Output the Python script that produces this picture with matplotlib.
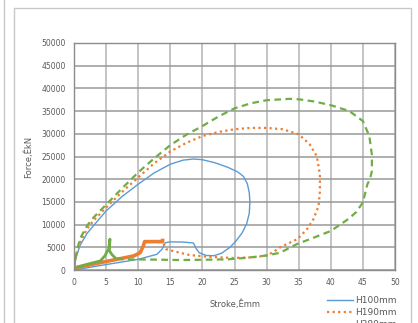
import matplotlib.pyplot as plt
from matplotlib.lines import Line2D

# H100mm (solid blue) - stroke in mm, force in kN
h100_x = [0, 0.3, 0.9, 2, 3, 5, 7.5, 10, 12.5, 15, 17, 18.6, 20, 22, 24, 25.5, 26.4,
          27.0, 27.3, 27.4, 27.3, 26.9, 26.2, 25.3, 24.3, 23, 21.8, 20.6, 19.5, 19.0,
          18.6, 17, 15, 14.2, 13.7, 12.9, 10, 5, 0]
h100_y = [0, 2600, 5300, 8000, 9700, 13000, 16200, 18900, 21400, 23300, 24200, 24450,
          24300, 23600, 22600, 21600, 20600, 19000, 17000, 15000, 12500, 10200, 8200,
          6500, 5000, 3700, 3150, 3200, 3800, 4800, 5950, 6150, 6200, 6000, 4560, 3450,
          2350, 1200, 0]

# H190mm (dotted orange) + dense part drawn solid
h190_x = [0, 0.3, 0.9, 2, 3, 5, 7.5, 10, 12.5, 15, 17.5, 20, 22.5, 25, 27.5, 30, 32.5,
          35, 36.7, 37.8, 38.1, 38.3, 38.3, 38.1, 37.3, 36.3, 34.8, 32.1, 31, 30, 28,
          24.8, 21, 18, 16.5, 14.4, 13.8]
h190_y = [0, 3000, 6000, 9000, 10800, 13750, 17200, 20400, 23500, 26100, 28000, 29500,
          30400, 31000, 31300, 31300, 31000, 29900, 27700, 25100, 22800, 21000, 17300,
          14100, 11200, 9000, 6800, 5000, 3900, 3200, 2800, 2650, 2900, 3300, 3800, 4560,
          6200]
h190_solid_x = [0, 0.3, 4.6, 9.3, 10.3, 10.8, 11, 13.7, 13.8, 13.8]
h190_solid_y = [0, 500, 1760, 3100, 3800, 5300, 6250, 6250, 6250, 6900]

# H280mm (dashed green) + dense part drawn solid
h280_x = [0, 0.3, 0.9, 2, 3, 5, 7.5, 10, 12.5, 15, 17.5, 20, 22.5, 25, 27.5, 30, 33.6,
          35, 37.5, 40, 42.9, 45, 46, 46.4, 46.4, 46.1, 45.7, 45, 44, 42.7, 40, 37.3,
          34.7, 32.1, 30, 27, 24, 20, 16.5, 12, 7.5, 6.4]
h280_y = [0, 3200, 6800, 9700, 11500, 14400, 18000, 21500, 24600, 27500, 29800, 31700,
          33800, 35600, 36700, 37400, 37700, 37600, 37100, 36300, 35000, 32800, 29500,
          25400, 21800, 20000, 18900, 14900, 12800, 11200, 8600, 7100, 5700, 3800, 3200,
          2700, 2350, 2250, 2200, 2300, 2350, 2700]
h280_solid_x = [0, 0.1, 2, 4.1, 4.8, 5.2, 5.4, 5.6, 5.5, 5.9, 6.4]
h280_solid_y = [0, 500, 1250, 2000, 3100, 4200, 4600, 6800, 4300, 3400, 2700]

blue = '#5B9BD5'
orange = '#ED7D31'
green = '#70AD47'
txt = '#595959'

fig = plt.figure(figsize=(4.18, 3.23), dpi=100)
ax = fig.add_axes([74 / 418, 1 - 270 / 323, 321 / 418, 227 / 323])

ax.plot(h100_x, h100_y, color=blue, lw=1.0, label='H100mm')
ax.plot(h190_x, h190_y, color=orange, lw=1.6, ls=(0, (1, 1.5)), label='H190mm')
ax.plot(h190_solid_x, h190_solid_y, color=orange, lw=2.6, solid_capstyle='butt')
ax.plot(h280_x, h280_y, color=green, lw=1.6, ls=(0, (3, 2)), label='H280mm')
ax.plot(h280_solid_x, h280_solid_y, color=green, lw=2.0)

ax.set_xlim(0, 50)
ax.set_ylim(0, 50000)
ax.set_xticks(range(0, 51, 5))
ax.set_yticks(range(0, 50001, 5000))
ax.grid(True, axis='x', color='#b4b4b4', lw=1.1)
ax.grid(True, axis='y', color='#999999', lw=1.1)
ax.set_axisbelow(True)
ax.tick_params(length=0, labelsize=5.5, labelcolor=txt, pad=6)
for s in ax.spines.values():
    s.set_color('#8c8c8c')
    s.set_linewidth(1.0)
ax.set_xlabel('Stroke,Êmm', fontsize=6, color=txt, labelpad=9)
ax.set_ylabel('Force,ÊkN', fontsize=6, color=txt, labelpad=6)

# legend sits low so the third entry is clipped by the figure edge, as in the source
fig.legend(loc='upper left', bbox_to_anchor=(327 / 418, 1 - 296 / 323), frameon=False,
           fontsize=6.5, labelcolor=txt, handlelength=2.9, handletextpad=0.2,
           labelspacing=0.35, borderaxespad=0, borderpad=0)

# chart frame lines
fig.add_artist(Line2D([4 / 418, 4 / 418], [0, 1], color='#c8c8c8', lw=1.0))
fig.add_artist(Line2D([14 / 418, 14 / 418, 411 / 418, 411 / 418],
                      [0, 1 - 8 / 323, 1 - 8 / 323, 0], color='#c8c8c8', lw=1.0))

fig.savefig('out.png', dpi=100)
